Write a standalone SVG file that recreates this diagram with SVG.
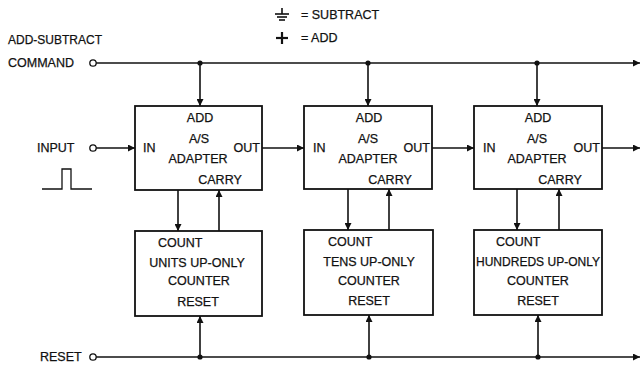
<svg xmlns="http://www.w3.org/2000/svg" width="640" height="366" viewBox="0 0 640 366">
<defs>
<marker id="ah" viewBox="0 0 10 10" refX="10" refY="5" markerWidth="9" markerHeight="7" markerUnits="userSpaceOnUse" orient="auto"><path d="M0,0 L10,5 L0,10 z" fill="#111"/></marker>
</defs>
<style>
text{font-family:"Liberation Sans",Arial,sans-serif;font-size:12.5px;fill:#111;stroke:#111;stroke-width:0.25}
.m{text-anchor:middle}
.e{text-anchor:end}
.box{fill:#fff;stroke:#111;stroke-width:1.8}
.ln{fill:none;stroke:#111;stroke-width:1.6}
.dot{fill:#111}
.term{fill:#fff;stroke:#111;stroke-width:1.3}
</style>
<rect width="640" height="366" fill="#fff"/>
<g id="legend">
<line class="ln" x1="282" y1="8" x2="282" y2="14"/>
<line class="ln" x1="275" y1="14" x2="289" y2="14"/>
<line class="ln" x1="277" y1="17" x2="287" y2="17"/>
<line class="ln" x1="279" y1="20" x2="285" y2="20"/>
<text x="301" y="19">= SUBTRACT</text>
<line class="ln" x1="276" y1="38" x2="288" y2="38" style="stroke-width:2.2"/>
<line class="ln" x1="282" y1="32" x2="282" y2="44" style="stroke-width:2.2"/>
<text x="301" y="42">= ADD</text>
</g>
<g id="labels">
<text x="8" y="44" textLength="94" lengthAdjust="spacingAndGlyphs">ADD-SUBTRACT</text>
<text x="8" y="67">COMMAND</text>
<text x="37" y="152">INPUT</text>
<text x="40" y="361">RESET</text>
<path class="ln" d="M42,189 H62 V169 H71 V189 H92" style="stroke-width:1.3"/>
</g>
<g id="connectors">
<line class="ln" x1="96" y1="63" x2="640" y2="63" marker-end="url(#ah)"/>
<line class="ln" x1="200" y1="63" x2="200" y2="106" marker-end="url(#ah)"/>
<line class="ln" x1="368" y1="63" x2="368" y2="106" marker-end="url(#ah)"/>
<line class="ln" x1="537" y1="63" x2="537" y2="106" marker-end="url(#ah)"/>
<circle class="dot" cx="200" cy="63" r="2.6"/>
<circle class="dot" cx="368" cy="63" r="2.6"/>
<circle class="dot" cx="537" cy="63" r="2.6"/>
<line class="ln" x1="96" y1="148" x2="135" y2="148" marker-end="url(#ah)"/>
<line class="ln" x1="262" y1="148" x2="304" y2="148" marker-end="url(#ah)"/>
<line class="ln" x1="432" y1="148" x2="474" y2="148" marker-end="url(#ah)"/>
<line class="ln" x1="602" y1="148" x2="640" y2="148" marker-end="url(#ah)"/>
<line class="ln" x1="178" y1="190" x2="178" y2="231" marker-end="url(#ah)"/>
<line class="ln" x1="219" y1="231" x2="219" y2="190" marker-end="url(#ah)"/>
<line class="ln" x1="348" y1="189" x2="348" y2="230" marker-end="url(#ah)"/>
<line class="ln" x1="389" y1="230" x2="389" y2="189" marker-end="url(#ah)"/>
<line class="ln" x1="517" y1="189" x2="517" y2="230" marker-end="url(#ah)"/>
<line class="ln" x1="559" y1="230" x2="559" y2="189" marker-end="url(#ah)"/>
<line class="ln" x1="96" y1="357" x2="640" y2="357" marker-end="url(#ah)"/>
<line class="ln" x1="200" y1="357" x2="200" y2="316" marker-end="url(#ah)"/>
<line class="ln" x1="369" y1="357" x2="369" y2="315" marker-end="url(#ah)"/>
<line class="ln" x1="538" y1="357" x2="538" y2="315" marker-end="url(#ah)"/>
<circle class="dot" cx="200" cy="357" r="2.6"/>
<circle class="dot" cx="369" cy="357" r="2.6"/>
<circle class="dot" cx="538" cy="357" r="2.6"/>
<circle class="term" cx="93" cy="63" r="3.2"/>
<circle class="term" cx="93" cy="148" r="3.2"/>
<circle class="term" cx="93" cy="357" r="3.2"/>
</g>
<g id="adapter1">
<rect class="box" x="135" y="106" width="127" height="84"/>
<text class="m" x="200" y="122">ADD</text>
<text class="m" x="199" y="143">A/S</text>
<text x="143" y="152">IN</text>
<text class="e" x="260" y="152">OUT</text>
<text class="m" x="198" y="163">ADAPTER</text>
<text class="m" x="220" y="184">CARRY</text>
</g>
<g id="adapter2">
<rect class="box" x="304" y="106" width="128" height="83"/>
<text class="m" x="369" y="122">ADD</text>
<text class="m" x="368" y="143">A/S</text>
<text x="313" y="152">IN</text>
<text class="e" x="430" y="152">OUT</text>
<text class="m" x="368" y="163">ADAPTER</text>
<text class="m" x="390" y="184">CARRY</text>
</g>
<g id="adapter3">
<rect class="box" x="474" y="106" width="128" height="83"/>
<text class="m" x="538" y="122">ADD</text>
<text class="m" x="537" y="143">A/S</text>
<text x="483" y="152">IN</text>
<text class="e" x="600" y="152">OUT</text>
<text class="m" x="537" y="163">ADAPTER</text>
<text class="m" x="560" y="184">CARRY</text>
</g>
<g id="counter1">
<rect class="box" x="135" y="231" width="127" height="85"/>
<text x="158" y="247">COUNT</text>
<text class="m" x="197" y="267">UNITS UP-ONLY</text>
<text class="m" x="199" y="285">COUNTER</text>
<text class="m" x="198" y="306">RESET</text>
</g>
<g id="counter2">
<rect class="box" x="304" y="230" width="129" height="85"/>
<text x="328" y="246">COUNT</text>
<text class="m" x="369" y="266">TENS UP-ONLY</text>
<text class="m" x="369" y="285">COUNTER</text>
<text class="m" x="369" y="305">RESET</text>
</g>
<g id="counter3">
<rect class="box" x="474" y="230" width="128" height="85"/>
<text x="496" y="246">COUNT</text>
<text class="m" x="538" y="266" textLength="124" lengthAdjust="spacingAndGlyphs">HUNDREDS UP-ONLY</text>
<text class="m" x="538" y="285">COUNTER</text>
<text class="m" x="538" y="305">RESET</text>
</g>
</svg>
